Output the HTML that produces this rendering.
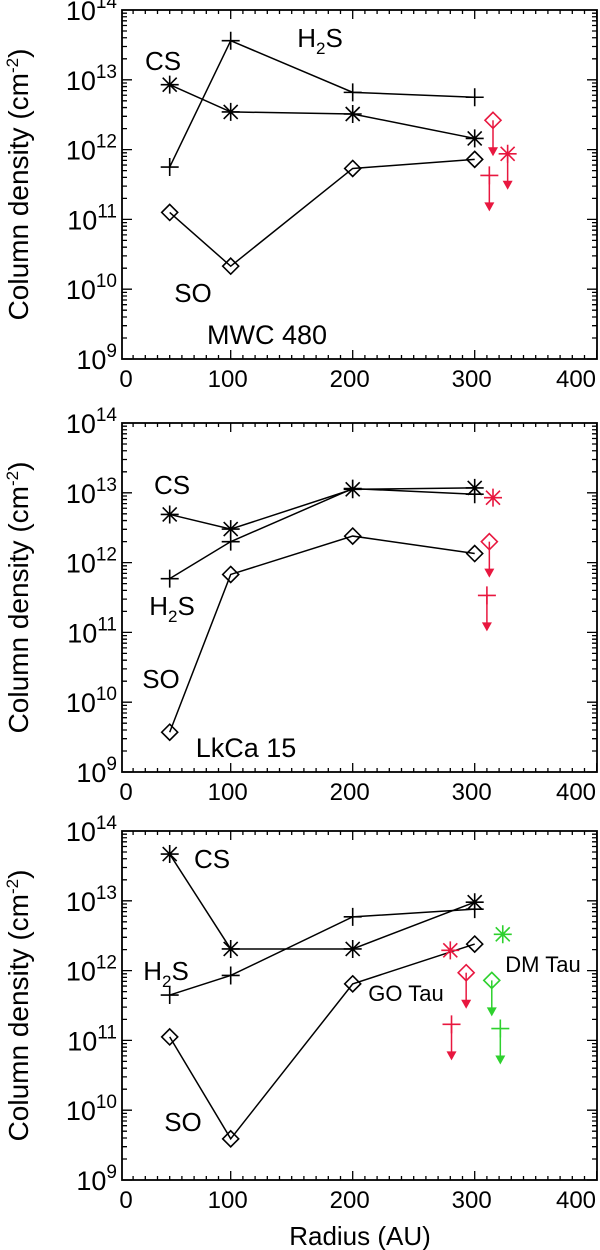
<!DOCTYPE html>
<html><head><meta charset="utf-8"><style>
body{margin:0;background:#fff}
svg{display:block}
text{font-family:"Liberation Sans",sans-serif;fill:#000}
</style></head><body>
<svg id="chart" width="600" height="1250" xmlns="http://www.w3.org/2000/svg"></svg>
<script>
// ---- data (log10 column density) ----
const radii = [50, 100, 200, 300];
const mwcCS  = [12.93, 12.54, 12.51, 12.16];
const mwcH2S = [11.75, 13.56, 12.82, 12.75];
const mwcSO  = [11.10, 10.33, 11.73, 11.86];
const lkCS   = [12.69, 12.48, 13.05, 13.07];
const lkH2S  = [11.77, 12.30, 13.06, 12.98];
const lkSO   = [9.57, 11.83, 12.38, 12.13];
const goCS   = [13.67, 12.31, 12.31, 12.98];
const goH2S  = [11.65, 11.93, 12.77, 12.88];
const goSO   = [11.05, 9.59, 11.81, 12.38];
// extra points: [radius, log value, marker, color, isUpperLimit]
const mwcExtra = [[315,12.42,'diamond','red',1],[327,11.94,'star','red',1],[312,11.63,'plus','red',1]];
const lkExtra  = [[315,12.93,'star','red',0],[312,12.30,'diamond','red',1],[310,11.53,'plus','red',1]];
const goExtra  = [[280,12.29,'star','red',0],[293,11.97,'diamond','red',1],[281,11.23,'plus','red',1],
                  [323,12.52,'star','green',0],[314,11.86,'diamond','green',1],[321,11.17,'plus','green',1]];
const xTicks = [0, 100, 200, 300, 400];
const yTicks = [9, 10, 11, 12, 13, 14];

const NS = "http://www.w3.org/2000/svg";
const svg = document.getElementById('chart');
const COL = {red:'#e8173f', green:'#2ed12e', black:'#000'};
const L = 122, R = 597, PX0 = 108.7, PXS = 1.22, DEC = 69.8;

function el(tag, attrs, parent) {
  const e = document.createElementNS(NS, tag);
  for (const k in attrs) e.setAttribute(k, attrs[k]);
  (parent || svg).appendChild(e);
  return e;
}

function drawMarker(g, type, x, y, c) {
  const w = 1.6;
  if (type === 'plus') {
    el('path', {d:`M${x-9},${y}H${x+9}M${x},${y-9}V${y+9}`, stroke:c, 'stroke-width':w, fill:'none'}, g);
  } else if (type === 'star') {
    el('path', {d:`M${x-9},${y}H${x+9}M${x},${y-9}V${y+9}M${x-7},${y-7}L${x+7},${y+7}M${x-7},${y+7}L${x+7},${y-7}`, stroke:c, 'stroke-width':w, fill:'none'}, g);
  } else {
    el('path', {d:`M${x},${y-8}L${x+8},${y}L${x},${y+8}L${x-8},${y}Z`, stroke:c, 'stroke-width':w, fill:'none'}, g);
  }
}

function panel(top, name, series, extras, labels, showXTitle) {
  const B = top + 349;
  const sx = v => PX0 + v * PXS;
  const sy = lv => top + (14 - lv) * DEC;
  const g = el('g', {});
  
  
  const fr = el('rect', {x:L, y:top, width:R-L, height:B-top, fill:'none', stroke:'#000', 'stroke-width':1.8}, g);
  
  
  let d = '';
  for (let v = 10; v <= 400; v += 10) {
    const x = sx(v); if (x < L || x > R) continue;
    const len = v % 100 === 0 ? 9 : 4;
    d += `M${x},${B}V${B-len}M${x},${top}V${top+len}`;
  }
  for (let dd = 9; dd < 14; dd++) {
    for (let m = 1; m < 10; m++) {
      const y = sy(dd + Math.log10(m));
      const len = m === 1 ? 10 : 5;
      d += `M${L},${y}H${L+len}M${R},${y}H${R-len}`;
    }
  }
  const tk = el('path', {d, stroke:'#000', 'stroke-width':1.3, fill:'none'}, g);
  
  
  xTicks.forEach(v => {
    const x = Math.max(sx(v), 129);
    const t = el('text', {x: Math.min(x - 3, 576), y: B + 28, 'font-size': 24, 'text-anchor':'middle'}, g);
    t.textContent = v;
    
    
  });
  yTicks.forEach(lv => {
    const t = el('text', {x: 117, y: sy(lv) + 10, 'font-size': 27, 'text-anchor':'end'}, g);
    const a = document.createElementNS(NS, 'tspan'); a.textContent = '10'; t.appendChild(a);
    const b = document.createElementNS(NS, 'tspan');
    b.setAttribute('dy', -12); b.setAttribute('font-size', 19); b.textContent = lv; t.appendChild(b);
    
    
  });
  const cy = (top + B) / 2;
  const yt = el('text', {x: 0, y: 0, 'font-size': 28, 'text-anchor':'middle', transform:`translate(28,${cy}) rotate(-90)`}, g);
  yt.innerHTML = 'Column density (cm<tspan dy="-10" font-size="17">-2</tspan><tspan dy="10">)</tspan>';
  
  
  series.forEach(([vals, type, sname]) => {
    const pts = radii.map((r, i) => `${sx(r)},${sy(vals[i])}`).join(' ');
    const pl = el('polyline', {points: pts, fill:'none', stroke:'#000', 'stroke-width':1.5}, g);
    
    
    radii.forEach((r, i) => drawMarker(g, type, sx(r), sy(vals[i]), '#000'));
  });
  extras.forEach(([r, lv, type, c, lim]) => {
    const x = sx(r), y = sy(lv), col = COL[c];
    drawMarker(g, type, x, y, col);
    if (lim) {
      const y2 = y + 36;
      const ar = el('path', {d:`M${x},${y}V${y2-8}`, stroke:col, 'stroke-width':1.5, fill:'none'}, g);
      
      
      el('path', {d:`M${x-5},${y2-9}L${x+5},${y2-9}L${x},${y2}Z`, fill:col}, g);
    }
  });
  labels.forEach(([txt, x, y, fs, nm]) => {
    const t = el('text', {x, y, 'font-size': fs, 'text-anchor':'middle'}, g);
    t.innerHTML = txt;
    
    
  });
  if (showXTitle) {
    const xt = el('text', {x: 360, y: 1245, 'font-size': 26, 'text-anchor':'middle'}, g);
    xt.textContent = 'Radius (AU)';
    
    
  }
}
const H2 = 'H<tspan dy="7" font-size="17">2</tspan><tspan dy="-7">S</tspan>';
panel(10, 'mwc480', [[mwcH2S,'plus','h2s'],[mwcCS,'star','cs'],[mwcSO,'diamond','so']], mwcExtra,
  [['CS',163,70,26,'cs-label'],[H2,320,47,26,'h2s-label'],['SO',193,302,26,'so-label'],['MWC 480',267,344,27,'source-label']], false);
panel(423, 'lkca15', [[lkH2S,'plus','h2s'],[lkCS,'star','cs'],[lkSO,'diamond','so']], lkExtra,
  [['CS',172,494,26,'cs-label'],[H2,172,615,26,'h2s-label'],['SO',161,688,26,'so-label'],['LkCa 15',246,757,27,'source-label']], false);
panel(831, 'gotau', [[goH2S,'plus','h2s'],[goCS,'star','cs'],[goSO,'diamond','so']], goExtra,
  [['CS',212,868,26,'cs-label'],[H2,166,980,26,'h2s-label'],['SO',183,1131,26,'so-label'],
   ['GO Tau',406,1001,22,'go-tau-label'],['DM Tau',543,972,22,'dm-tau-label']], true);
</script>
</body></html>
